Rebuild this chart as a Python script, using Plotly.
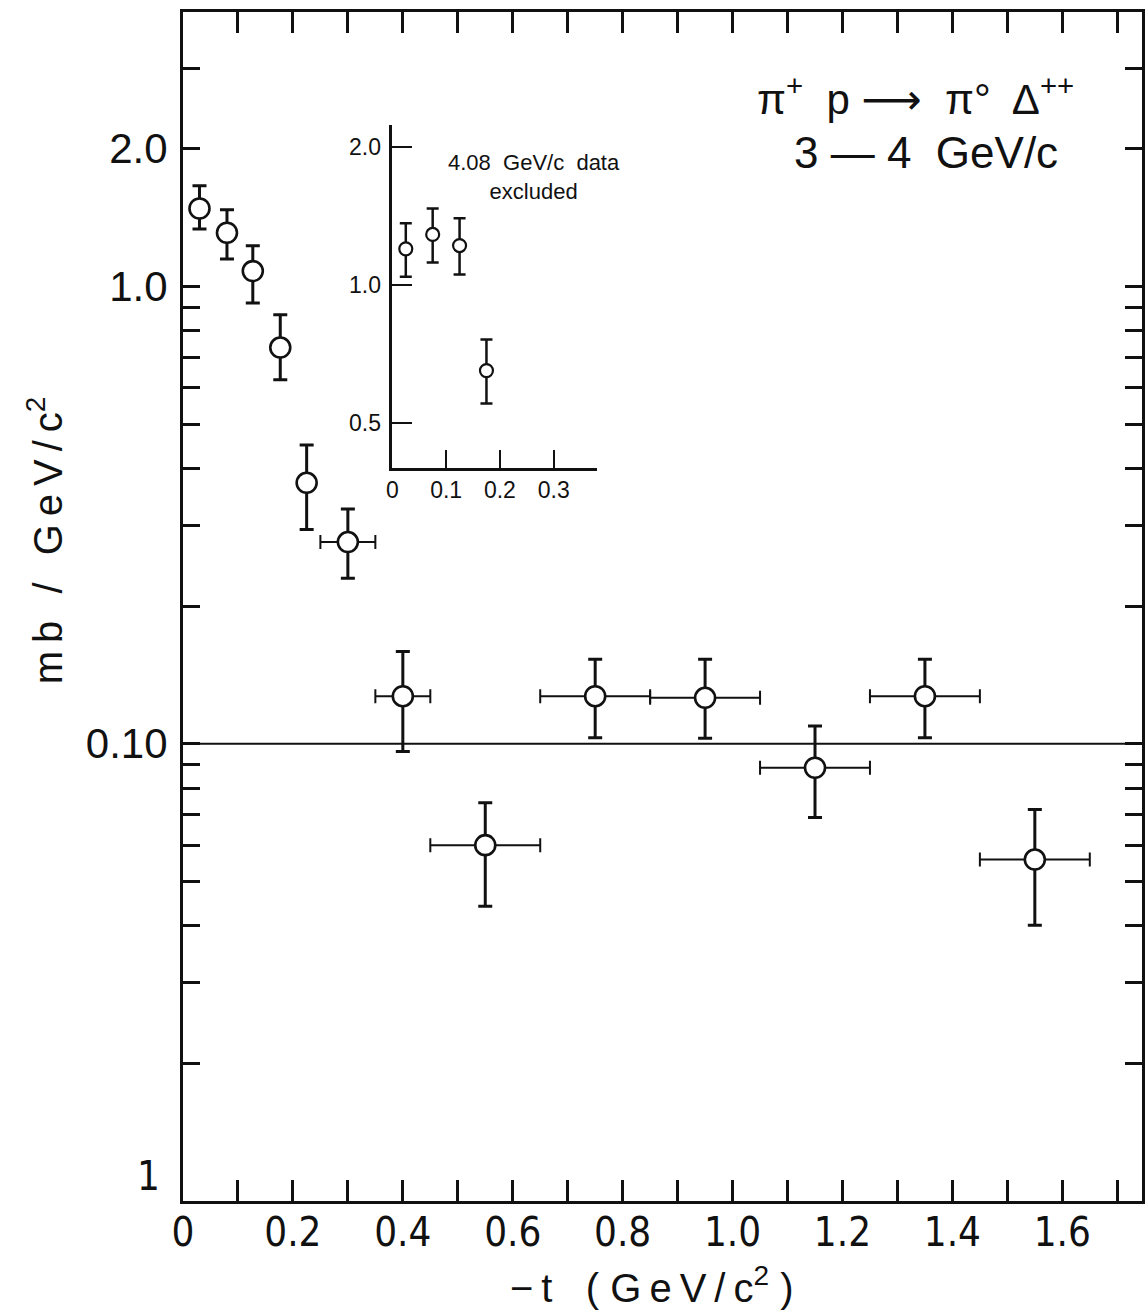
import plotly.graph_objects as go

# ---------------- data ----------------
# main panel: points without horizontal bins
t_a = [0.03, 0.08, 0.127, 0.177, 0.225]
s_a = [1.48, 1.31, 1.08, 0.735, 0.372]
s_a_hi = [1.66, 1.47, 1.227, 0.867, 0.450]
s_a_lo = [1.335, 1.148, 0.920, 0.625, 0.294]

# main panel: points with t-bins
t_b = [0.30, 0.40, 0.55, 0.75, 0.95, 1.15, 1.35, 1.55]
t_b_half = [0.05, 0.05, 0.10, 0.10, 0.10, 0.10, 0.10, 0.10]
s_b = [0.276, 0.127, 0.060, 0.127, 0.126, 0.0886, 0.127, 0.0558]
s_b_hi = [0.326, 0.159, 0.0743, 0.153, 0.153, 0.1093, 0.153, 0.0718]
s_b_lo = [0.230, 0.0961, 0.0441, 0.1031, 0.1028, 0.0690, 0.1031, 0.0401]

# inset (4.08 GeV/c data excluded)
t_in = [0.025, 0.075, 0.125, 0.175]
s_in = [1.20, 1.29, 1.22, 0.65]
s_in_hi = [1.365, 1.47, 1.40, 0.76]
s_in_lo = [1.043, 1.12, 1.055, 0.551]

ref_level = 0.1

x_ticks = [round(0.1 * i, 1) for i in range(0, 18)]
x_ticktext = ["0", "", "0.2", "", "0.4", "", "0.6", "", "0.8", "", "1.0", "", "1.2", "", "1.4", "", "1.6", ""]
y_major = [0.01, 0.1, 1.0, 2.0]
y_major_text = ["", "0.10", "1.0", "2.0"]
y_minor = [0.02, 0.03, 0.04, 0.05, 0.06, 0.07, 0.08, 0.09,
           0.2, 0.3, 0.4, 0.5, 0.6, 0.7, 0.8, 0.9, 3.0]
y_long = [0.1, 1.0]
inset_xt = [0.0, 0.1, 0.2, 0.3]
inset_xtext = ["0", "0.1", "0.2", "0.3"]
inset_yt = [0.5, 1.0, 2.0]
inset_ytext = ["0.5", "1.0", "2.0"]

# ---------------- figure ----------------
INK = "#111111"
FONT = "Liberation Sans, DejaVu Sans, Arial, sans-serif"
NARROW = "Liberation Sans Narrow, DejaVu Sans Condensed, Liberation Sans, sans-serif"
TS = "\u2009"  # thin space for the wide letter tracking of the original lettering


def spaced(s):
    return TS.join(list(s))


fig = go.Figure()


def err(hi, lo, y):
    return dict(type="data", symmetric=False,
                array=[h - v for h, v in zip(hi, y)],
                arrayminus=[v - l for v, l in zip(y, lo)])


fig.add_trace(go.Scatter(
    x=t_a, y=s_a, mode="markers",
    marker=dict(symbol="circle", size=20, color="white", line=dict(color=INK, width=2.6)),
    error_y=dict(**err(s_a_hi, s_a_lo, s_a), color=INK, thickness=3, width=7),
    showlegend=False, xaxis="x", yaxis="y"))

fig.add_trace(go.Scatter(
    x=t_b, y=s_b, mode="markers",
    marker=dict(symbol="circle", size=20, color="white", line=dict(color=INK, width=2.6)),
    error_y=dict(**err(s_b_hi, s_b_lo, s_b), color=INK, thickness=3, width=7),
    error_x=dict(type="data", array=t_b_half, color=INK, thickness=2, width=7),
    showlegend=False, xaxis="x", yaxis="y"))

fig.add_trace(go.Scatter(
    x=t_in, y=s_in, mode="markers",
    marker=dict(symbol="circle", size=13, color="white", line=dict(color=INK, width=2.2)),
    error_y=dict(**err(s_in_hi, s_in_lo, s_in), color=INK, thickness=2.5, width=6),
    showlegend=False, xaxis="x2", yaxis="y2"))

# reference line at 0.10
fig.add_shape(type="line", xref="x domain", yref="y", x0=0, x1=1,
              y0=ref_level, y1=ref_level, line=dict(color=INK, width=2))

fig.update_layout(
    width=1147, height=1310,
    margin=dict(l=183, r=2, t=12, b=109),
    paper_bgcolor="white", plot_bgcolor="white",
    showlegend=False,
    xaxis=dict(
        domain=[0, 1], range=[0, 1.745], showgrid=False, zeroline=False,
        showline=True, linecolor=INK, linewidth=3, mirror="ticks",
        ticks="inside", ticklen=21, tickwidth=2.5, tickcolor=INK,
        tickmode="array", tickvals=x_ticks, ticktext=x_ticktext,
        ticklabelstandoff=-6,
        tickfont=dict(family=NARROW, size=40, color=INK)),
    yaxis=dict(
        domain=[0, 1], type="log", range=[-2, 0.6], showgrid=False, zeroline=False,
        showline=True, linecolor=INK, linewidth=3, mirror="ticks",
        ticks="inside", ticklen=17, tickwidth=2.5, tickcolor=INK,
        tickmode="array", tickvals=y_major, ticktext=y_major_text,
        ticklabelstandoff=4,
        tickfont=dict(family=FONT, size=42, color=INK),
        minor=dict(tickmode="array", tickvals=y_minor, ticks="inside",
                   ticklen=17, tickwidth=2.5, tickcolor=INK, showgrid=False)),
    yaxis3=dict(
        overlaying="y", type="log", range=[-2, 0.6], showgrid=False, zeroline=False,
        showline=False, mirror="ticks", ticks="inside", ticklen=37, tickwidth=2.5,
        tickcolor=INK, tickmode="array", tickvals=y_long, showticklabels=False),
    xaxis2=dict(
        domain=[0.2183, 0.4314], anchor="y2", range=[0, 0.38],
        showgrid=False, zeroline=False, showline=True, linecolor=INK, linewidth=2.5,
        ticks="inside", ticklen=18, tickwidth=2.2, tickcolor=INK,
        tickmode="array", tickvals=inset_xt, ticktext=inset_xtext,
        tickfont=dict(family=FONT, size=23, color=INK)),
    yaxis2=dict(
        domain=[0.6165, 0.905], anchor="x2", type="log", range=[-0.4, 0.35],
        showgrid=False, zeroline=False, showline=True, linecolor=INK, linewidth=2.5,
        ticks="inside", ticklen=20, tickwidth=2.2, tickcolor=INK,
        tickmode="array", tickvals=inset_yt, ticktext=inset_ytext,
        ticklabelstandoff=4,
        tickfont=dict(family=FONT, size=23, color=INK)),
    annotations=[
        dict(text="π<sup>+</sup>  p ⟶  π°  Δ<sup>++</sup>", xref="paper", yref="paper",
             x=0.764, y=0.929, showarrow=False, xanchor="center", yanchor="middle",
             font=dict(family=FONT, size=42, color=INK)),
        dict(text="3 — 4  GeV/c", xref="paper", yref="paper",
             x=0.7745, y=0.882, showarrow=False, xanchor="center", yanchor="middle",
             font=dict(family=FONT, size=44, color=INK)),
        dict(text="4.08  GeV/c  data<br>excluded", xref="paper", yref="paper",
             x=0.366, y=0.861, showarrow=False, xanchor="center", yanchor="middle",
             align="center", font=dict(family=FONT, size=22, color=INK)),
        dict(text=spaced("mb / GeV/c") + "<sup>2</sup>", xref="paper", yref="paper",
             x=-0.1435, y=0.556, showarrow=False, textangle=-90,
             xanchor="center", yanchor="middle",
             font=dict(family=FONT, size=40, color=INK)),
        dict(text="−" + TS + "t" + "   ( " + spaced("GeV/c") + "<sup>2</sup> )",
             xref="paper", yref="paper",
             x=0.4886, y=-0.071, showarrow=False, xanchor="center", yanchor="middle",
             font=dict(family=FONT, size=40, color=INK)),
        dict(text="1", xref="paper", yref="paper", x=-0.0218, y=0.0,
             showarrow=False, xanchor="right", yanchor="bottom",
             font=dict(family=NARROW, size=40, color=INK)),
    ],
)

fig.write_html("out.html")
